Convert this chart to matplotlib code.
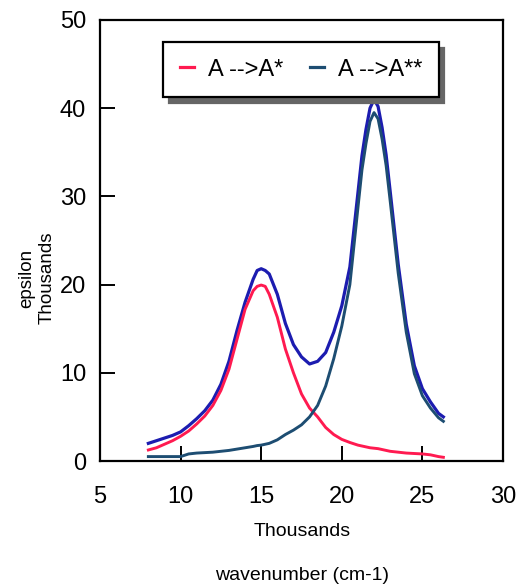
import matplotlib
matplotlib.use("Agg")
import matplotlib.pyplot as plt
from matplotlib import font_manager

names = {f.name for f in font_manager.fontManager.ttflist}
fam = ['Liberation Sans Narrow'] if 'Liberation Sans Narrow' in names else ['Liberation Sans']
plt.rcParams['font.family'] = fam + ['DejaVu Sans']

# wavenumber (thousands of cm-1)
wavenumber = [8, 8.5, 9, 9.5, 10, 10.5, 11, 11.5, 12, 12.5, 13, 13.5, 14, 14.5, 14.75, 15,
              15.25, 15.5, 16, 16.5, 17, 17.5, 18, 18.5, 19, 19.5, 20, 20.5, 21, 21.25, 21.5,
              21.75, 22, 22.25, 22.5, 22.75, 23, 23.5, 24, 24.5, 25, 25.5, 26, 26.3]
# A --> A*
eps_a1 = [1.25, 1.5, 1.9, 2.3, 2.8, 3.4, 4.2, 5.1, 6.3, 8.0, 10.4, 13.8, 17.2, 19.3, 19.8, 19.95,
          19.8, 18.9, 16.3, 12.7, 10.0, 7.6, 6.0, 5.0, 3.8, 3.0, 2.45, 2.1, 1.8, 1.7, 1.6,
          1.5, 1.45, 1.4, 1.3, 1.2, 1.1, 1.0, 0.9, 0.85, 0.8, 0.7, 0.5, 0.42]
# A --> A**
eps_a2 = [0.5, 0.5, 0.5, 0.5, 0.5, 0.8, 0.9, 0.95, 1.0, 1.1, 1.2, 1.35, 1.5, 1.65, 1.75, 1.8,
          1.9, 2.0, 2.4, 3.0, 3.5, 4.1, 5.0, 6.3, 8.5, 11.6, 15.3, 20.0, 28.7, 33.0, 36.0,
          38.5, 39.5, 38.8, 36.5, 33.5, 29.5, 21.3, 14.6, 9.9, 7.4, 6.0, 4.9, 4.5]
# total
eps_total = [2.0, 2.3, 2.6, 2.9, 3.3, 4.0, 4.8, 5.7, 6.9, 8.7, 11.3, 14.8, 18.0, 20.6, 21.6, 21.8,
             21.6, 21.2, 18.9, 15.6, 13.2, 11.8, 11.0, 11.3, 12.3, 14.6, 17.6, 22.0, 30.4, 34.6, 37.6,
             40.0, 41.0, 40.2, 37.8, 34.7, 30.6, 22.3, 15.5, 10.8, 8.2, 6.7, 5.4, 5.0]

xticks = [5, 10, 15, 20, 25, 30]
yticks = [0, 10, 20, 30, 40, 50]

fig = plt.figure(figsize=(5.16, 5.87), dpi=100)
ax = fig.add_axes([100/516, 1-461/587, 403/516, 441/587])

red = '#ff1a50'
teal = '#1d4d72'
blue = '#1c1cb0'

ax.plot(wavenumber, eps_total, color=blue, lw=2.3, solid_joinstyle='round')
ax.plot(wavenumber, eps_a1, color=red, lw=2.1, label='A -->A*', solid_joinstyle='round')
ax.plot(wavenumber, eps_a2, color=teal, lw=2.1, label='A -->A**', solid_joinstyle='round')

ax.set_xlim(5, 30)
ax.set_ylim(0, 50)
ax.set_xticks(xticks)
ax.set_yticks(yticks)
ax.tick_params(direction='in', length=11, width=1.4, labelsize=17, pad=10)
ax.tick_params(axis='x', pad=18)
for s in ax.spines.values():
    s.set_linewidth(1.6)

leg = ax.legend(loc='upper center', bbox_to_anchor=(0.499, 0.950), ncol=2, fontsize=17,
                frameon=True, fancybox=False, shadow={'color': '0.4', 'alpha': 1, 'ox': 4, 'oy': -4},
                edgecolor='black', framealpha=1, handlelength=0.6, columnspacing=1.1,
                handletextpad=0.6, borderpad=0.7, borderaxespad=0)
leg.get_frame().set_linewidth(1.6)
for line in leg.get_lines():
    line.set_linewidth(2.3)

fig.text(37/516, 1-278/587, 'epsilon\nThousands', rotation=90, ha='center', va='center',
         fontsize=13.5, linespacing=1.25)
fig.text(302/516, 1-532/587, 'Thousands', ha='center', va='center', fontsize=14)
fig.text(302/516, 1-575/587, 'wavenumber (cm-1)', ha='center', va='center', fontsize=14)

fig.savefig('out.png', dpi=100)
